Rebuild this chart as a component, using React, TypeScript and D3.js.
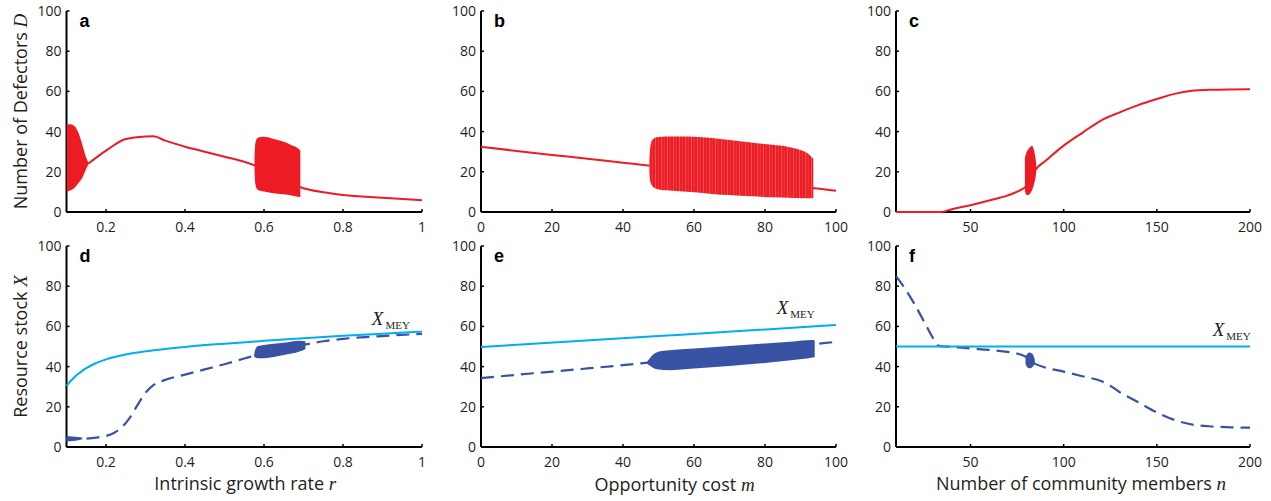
import React from 'react';
import * as d3 from 'd3';

const RED = '#ed1c24';
const CYAN = '#00aeef';
const NAVY = '#3953a4';
const INK = '#231f20';

// a: defectors D vs growth rate r ([x, D]); bands are [x, low, high]
const aLine = [[0.155, 24], [0.2, 30.5], [0.25, 36.3], [0.3, 37.6], [0.32, 37.7], [0.35, 35.5], [0.4, 32.5], [0.45, 30], [0.5, 27.5], [0.55, 25], [0.577, 23.2], [0.692, 12.3], [0.7, 11.8], [0.75, 9.8], [0.8, 8.5], [0.9, 7.1], [1.0, 5.8]];
const aBandLow = [[0.101, 10, 43.5], [0.11, 10.8, 43.6], [0.12, 12, 42.8], [0.13, 14.3, 39.5], [0.14, 17, 33.5], [0.15, 21.5, 27], [0.156, 24, 24.4]];
const aBandHigh = [[0.576, 20, 27], [0.578, 14, 34], [0.582, 11.5, 36.5], [0.59, 10.6, 37.3], [0.6, 10.2, 37.4], [0.62, 9.5, 36.6], [0.65, 8.8, 34.9], [0.67, 8.2, 33.2], [0.69, 7.5, 31], [0.692, 7.5, 30.5]];

// b: defectors D vs opportunity cost m
const bLine = [[0, 32.5], [10, 30.4], [20, 28.4], [30, 26.5], [40, 24.5], [47.6, 23], [94, 11.8], [97, 11.2], [100, 10.6]];
const bBand = [[47.4, 20, 26], [47.7, 15, 32.5], [48.3, 12.8, 36], [49.5, 11.5, 37.2], [52, 10.8, 37.6], [56, 10.3, 37.6], [60, 9.8, 37.4], [65, 9, 36.8], [70, 8.4, 35.8], [76, 7.8, 34.6], [82, 7.3, 33.4], [86.5, 7.1, 32.4], [90, 6.9, 30.8], [92.5, 6.8, 28.5], [93.6, 6.8, 26.5]];

// c: defectors D vs community size n
const cLine = [[10, 0], [34, 0], [40, 1.4], [50, 3.4], [60, 5.7], [70, 8.3], [78, 11.5], [79.3, 12.3], [85.2, 21.5], [90, 25.3], [100, 33], [110, 39.4], [120, 45.5], [130, 49.6], [140, 53.2], [150, 56.2], [160, 58.9], [168, 60.2], [180, 60.8], [200, 61.1]];
const cBand = [[79.2, 10.5, 27], [80, 8.6, 29.5], [81, 8.4, 31.2], [82, 9.2, 32.3], [83, 10.8, 33], [84, 13.5, 31], [85, 18, 26], [85.4, 21, 22.5]];

// d: resource stock X vs r
const dMey = [[0.1, 30.4], [0.11, 32.7], [0.12, 34.7], [0.13, 36.4], [0.14, 37.9], [0.15, 39.2], [0.17, 41.3], [0.2, 43.6], [0.25, 46], [0.3, 47.6], [0.35, 48.8], [0.4, 49.8], [0.5, 51.4], [0.6, 52.8], [0.7, 54.1], [0.8, 55.3], [0.9, 56.4], [1.0, 57.4]];
const dStock = [[0.1, 4], [0.15, 4.2], [0.18, 4.8], [0.2, 5.5], [0.22, 7], [0.24, 9.8], [0.26, 14.5], [0.28, 21], [0.3, 27], [0.32, 30.8], [0.35, 33.4], [0.4, 36], [0.45, 38.6], [0.5, 41.2], [0.55, 44], [0.577, 45.5], [0.704, 51], [0.75, 52.6], [0.8, 53.8], [0.9, 55.2], [1.0, 56.3]];
const dBandLow = [[0.1, 2.9, 5.3], [0.115, 3.0, 5.2], [0.13, 3.3, 5.0], [0.14, 3.8, 4.6]];
const dBandHigh = [[0.575, 45.2, 46], [0.578, 44.5, 48.5], [0.585, 44.1, 50.2], [0.6, 44.2, 50.8], [0.65, 45.8, 51.9], [0.69, 47.5, 52.9], [0.705, 48.8, 52.6]];

// e: resource stock X vs m
const eMey = [[0, 49.8], [25, 52.5], [50, 55.2], [75, 57.9], [100, 60.7]];
const eStock = [[0, 34.3], [10, 35.9], [20, 37.5], [30, 39.1], [40, 40.7], [47, 42], [94, 51.2], [100, 52.3]];
const eBand = [[46.8, 41.6, 42.4], [47.5, 40.5, 44], [48.5, 39.3, 46], [50, 38.6, 47.4], [53, 38.2, 48.1], [60, 39, 49], [70, 40.3, 50.2], [80, 41.8, 51.5], [88, 43.3, 52.5], [93, 44.4, 53.2], [94, 44.8, 53.1]];

// f: resource stock X vs n
const fMey = [[10, 50], [200, 50]];
const fStock = [[10, 85], [15, 78.5], [20, 71], [25, 62.5], [30, 54], [33, 50.3], [40, 49.8], [50, 49], [60, 48.3], [70, 47.3], [79.5, 45], [84.5, 41.5], [90, 39.6], [100, 37.5], [110, 35.2], [120, 32.8], [125, 30.5], [130, 27.3], [140, 22.3], [150, 17.2], [160, 13.3], [170, 11], [180, 10.2], [190, 9.8], [200, 9.6]];
const fBand = [[79.5, 41.5, 44.5], [80.3, 39.8, 46.2], [81.5, 39.2, 47], [82.5, 39.3, 46.8], [83.5, 40, 46], [84.5, 41.5, 43.5]];

const yTicks = [0, 20, 40, 60, 80, 100];
const rTicks = [0.2, 0.4, 0.6, 0.8, 1];
const mTicks = [0, 20, 40, 60, 80, 100];
const nTicks = [50, 100, 150, 200];

// where the X_MEY label sits, in data units
const dMeyLabel = [0.873, 60.7];
const eMeyLabel = [83.3, 66.2];
const fMeyLabel = [180, 55.2];

const cols = [[66.5, 422], [481, 836], [896, 1250]];
const rows = [[11, 212], [246, 447]];

const sans = '"Open Sans", sans-serif';
const serif = '"Liberation Serif", "DejaVu Serif", serif';

const panels: any[] = [
  { letter: 'a', col: 0, row: 0, dom: [0.1, 1], ticks: rTicks,
    bands: [{ d: aBandLow, c: RED }, { d: aBandHigh, c: RED }], lines: [{ d: aLine, c: RED }] },
  { letter: 'b', col: 1, row: 0, dom: [0, 100], ticks: mTicks,
    bands: [{ d: bBand, c: RED, striped: true }], lines: [{ d: bLine, c: RED }] },
  { letter: 'c', col: 2, row: 0, dom: [10, 200], ticks: nTicks,
    bands: [{ d: cBand, c: RED }], lines: [{ d: cLine, c: RED }] },
  { letter: 'd', col: 0, row: 1, dom: [0.1, 1], ticks: rTicks, mey: dMeyLabel,
    label: ['Intrinsic growth rate ', 'r'], lx: 1, ly: 490,
    bands: [{ d: dBandLow, c: NAVY }, { d: dBandHigh, c: NAVY }],
    lines: [{ d: dStock, c: NAVY, dash: true }, { d: dMey, c: CYAN }] },
  { letter: 'e', col: 1, row: 1, dom: [0, 100], ticks: mTicks, mey: eMeyLabel,
    label: ['Opportunity cost ', 'm'], lx: 16, ly: 491,
    bands: [{ d: eBand, c: NAVY }],
    lines: [{ d: eStock, c: NAVY, dash: true }, { d: eMey, c: CYAN }] },
  { letter: 'f', col: 2, row: 1, dom: [10, 200], ticks: nTicks, mey: fMeyLabel,
    label: ['Number of community members ', 'n'], lx: 8, ly: 490,
    bands: [{ d: fBand, c: NAVY }],
    lines: [{ d: fStock, c: NAVY, dash: true }, { d: fMey, c: CYAN }] },
];

const fmt = d3.format('~g');

function Panel({ p }: { p: any }) {
  const [c0, c1] = cols[p.col];
  const [r0, r1] = rows[p.row];
  const x = d3.scaleLinear().domain(p.dom).range([c0, c1]);
  const y = d3.scaleLinear().domain([0, 100]).range([r1, r0]);
  const line = d3.line<number[]>().x(d => x(d[0])).y(d => y(d[1])).curve(d3.curveMonotoneX);
  const area = d3.area<number[]>().x(d => x(d[0])).y0(d => y(d[1])).y1(d => y(d[2])).curve(d3.curveMonotoneX);

  return (
    <g>
      {/* axes */}
      <line x1={c0} x2={c1} y1={r1} y2={r1} stroke="#000" strokeWidth={2} />
      <line x1={c0} x2={c0} y1={r0} y2={r1} stroke="#000" strokeWidth={2} />
      {p.ticks.map((t: number) => (
        <g key={'x' + t}>
          <line x1={x(t)} x2={x(t)} y1={r1} y2={r1 - 3} stroke="#000" strokeWidth={1.5} />
          <text x={x(t)} y={r1 + 20} textAnchor="middle" fontSize={14} fill={INK} fontFamily={sans}>{fmt(t)}</text>
        </g>
      ))}
      {yTicks.map(t => (
        <g key={'y' + t}>
          <line x1={c0} x2={c0 + 3} y1={y(t)} y2={y(t)} stroke="#000" strokeWidth={1.5} />
          <text x={c0 - 5} y={y(t)} dy="0.36em" textAnchor="end" fontSize={14} fill={INK} fontFamily={sans}>{t}</text>
        </g>
      ))}

      {/* curves first, oscillating regimes painted over them */}
      {p.lines.map((l: any, i: number) => (
        <path key={'l' + i} d={line(l.d) || ''} fill="none" stroke={l.c}
          strokeWidth={l.dash ? 2.2 : 2} strokeDasharray={l.dash ? '13 7' : undefined} />
      ))}
      {p.bands.map((b: any, i: number) => (
        <path key={'b' + i} d={area(b.d) || ''} fill={b.striped ? 'url(#stripes)' : b.c} />
      ))}

      <text x={c0 + 13} y={r0 + 16} fontSize={18} fontWeight="bold" fill="#000"
        fontFamily='"Liberation Sans", Arial, sans-serif'>{p.letter}</text>

      {p.mey && (
        <text x={x(p.mey[0])} y={y(p.mey[1])} fill={INK} fontFamily={serif}>
          <tspan fontSize={19} fontStyle="italic">X</tspan>
          <tspan fontSize={11} dx={2} dy={4}>MEY</tspan>
        </text>
      )}

      {p.label && (
        <text x={(c0 + c1) / 2 + p.lx} y={p.ly} textAnchor="middle" fontSize={18} fill={INK} fontFamily={sans}>
          {p.label[0]}<tspan fontFamily={serif} fontStyle="italic" fontSize={19}>{p.label[1]}</tspan>
        </text>
      )}
    </g>
  );
}

export default function App() {
  return (
    <svg width={1271} height={501} style={{ position: 'absolute', left: 0, top: 0, background: '#fff' }}>
      <defs>
        <pattern id="stripes" width={6} height={20} patternUnits="userSpaceOnUse">
          <rect width={6} height={20} fill={RED} />
          <line x1={1.5} x2={1.5} y1={0} y2={20} stroke="#f5767b" strokeWidth={0.6} />
          <line x1={4.2} x2={4.2} y1={0} y2={20} stroke="#f4545a" strokeWidth={0.5} />
        </pattern>
      </defs>
      {panels.map(p => <Panel key={p.letter} p={p} />)}
      <text transform={`translate(27,${(rows[0][0] + rows[0][1]) / 2}) rotate(-90)`} textAnchor="middle"
        fontSize={18} fill={INK} fontFamily={sans}>
        Number of Defectors <tspan fontFamily={serif} fontStyle="italic" fontSize={19}>D</tspan>
      </text>
      <text transform={`translate(27,${(rows[1][0] + rows[1][1]) / 2}) rotate(-90)`} textAnchor="middle"
        fontSize={18} fill={INK} fontFamily={sans}>
        Resource stock <tspan fontFamily={serif} fontStyle="italic" fontSize={19}>X</tspan>
      </text>
    </svg>
  );
}
